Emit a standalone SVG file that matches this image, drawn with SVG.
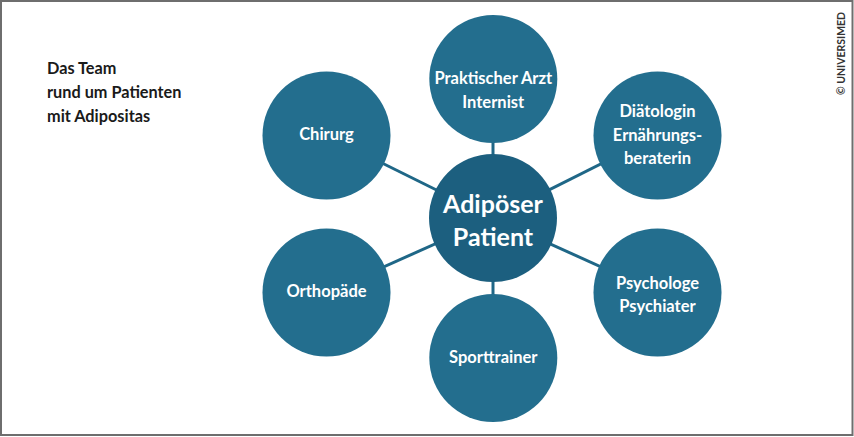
<svg xmlns="http://www.w3.org/2000/svg" width="854" height="437" viewBox="0 0 854 437">
<style>
.node{fill:#236e8e}
.core{fill:#1c5f7f}
.lbl{font-family:Lato,"Open Sans","Liberation Sans",sans-serif;font-weight:bold;font-size:16.5px;fill:#ffffff;text-anchor:middle}
.big{font-size:25px}
.title{font-family:Lato,"Open Sans","Liberation Sans",sans-serif;font-weight:bold;font-size:16.3px;fill:#1a1a1a}
.conn line{stroke:#1f6787;stroke-width:3}
</style>
<rect x="0" y="0" width="854" height="437" fill="#ffffff"/>
<rect x="1" y="1" width="851.5" height="434" fill="none" stroke="#6e6e6e" stroke-width="2"/>
<g id="title">
<text class="title" x="47" y="74">Das Team</text>
<text class="title" x="47" y="98">rund um Patienten</text>
<text class="title" x="47" y="122">mit Adipositas</text>
</g>
<text x="845" y="95" transform="rotate(-90 845 95)" font-family="Lato,'Liberation Sans',sans-serif" font-weight="bold" font-size="10.5" fill="#333333">© UNIVERSIMED</text>
<g class="conn" id="connectors">
<line x1="493" y1="218" x2="493" y2="79"/>
<line x1="493" y1="218" x2="493" y2="358"/>
<line x1="493" y1="218" x2="326.5" y2="135.5"/>
<line x1="493" y1="218" x2="326.5" y2="292.5"/>
<line x1="493" y1="218" x2="657.5" y2="135.5"/>
<line x1="493" y1="218" x2="657.5" y2="292.5"/>
</g>
<g id="arzt"><circle class="node" cx="493.3" cy="79" r="64"/>
<text class="lbl" x="493.3" y="84">Praktischer Arzt</text>
<text class="lbl" x="493.3" y="108">Internist</text></g>
<g id="diaetologin"><circle class="node" cx="657.5" cy="135.5" r="64"/>
<text class="lbl" x="657.5" y="117">Diätologin</text>
<text class="lbl" x="657.5" y="140.5">Ernährungs-</text>
<text class="lbl" x="657.5" y="164">beraterin</text></g>
<g id="psychologe"><circle class="node" cx="657.5" cy="292.5" r="64"/>
<text class="lbl" x="657.5" y="288.5">Psychologe</text>
<text class="lbl" x="657.5" y="312">Psychiater</text></g>
<g id="sporttrainer"><circle class="node" cx="493.3" cy="358" r="64"/>
<text class="lbl" x="493.3" y="363">Sporttrainer</text></g>
<g id="orthopaede"><circle class="node" cx="326.5" cy="292.5" r="64"/>
<text class="lbl" x="326.5" y="297">Orthopäde</text></g>
<g id="chirurg"><circle class="node" cx="326.5" cy="135.5" r="64"/>
<text class="lbl" x="326.5" y="139.5">Chirurg</text></g>
<g id="patient"><circle class="core" cx="493" cy="218" r="64"/>
<text class="lbl big" x="493" y="213">Adipöser</text>
<text class="lbl big" x="493" y="246">Patient</text></g>
</svg>
